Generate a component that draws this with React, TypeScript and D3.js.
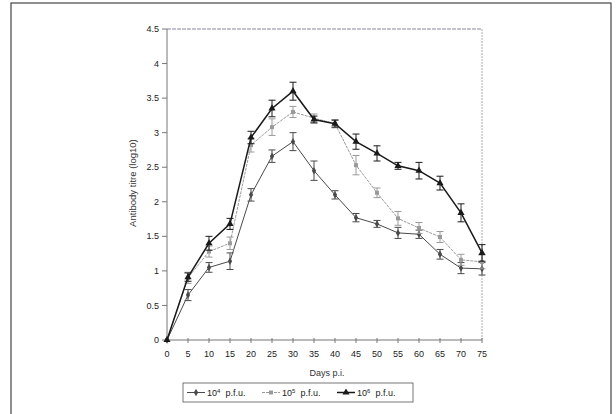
import React from 'react'
import { scaleLinear, line, symbol, symbolDiamond, symbolSquare, symbolTriangle } from 'd3'

const days = [0, 5, 10, 15, 20, 25, 30, 35, 40, 45, 50, 55, 60, 65, 70, 75]
const yTicks = [0, 0.5, 1, 1.5, 2, 2.5, 3, 3.5, 4, 4.5]

const pfu4 = [0, 0.65, 1.05, 1.14, 2.1, 2.66, 2.87, 2.45, 2.1, 1.77, 1.68, 1.55, 1.53, 1.24, 1.04, 1.03]
const pfu4Err = [0, 0.08, 0.07, 0.12, 0.09, 0.09, 0.13, 0.14, 0.06, 0.06, 0.05, 0.08, 0.06, 0.07, 0.08, 0.09]
const pfu5 = [0, 0.9, 1.28, 1.4, 2.82, 3.08, 3.3, 3.21, 3.13, 2.53, 2.13, 1.76, 1.62, 1.49, 1.16, 1.13]
const pfu5Err = [0, 0.08, 0.08, 0.09, 0.1, 0.12, 0.08, 0.06, 0.06, 0.14, 0.07, 0.1, 0.08, 0.08, 0.08, 0.1]
const pfu6 = [0, 0.91, 1.4, 1.68, 2.93, 3.35, 3.6, 3.19, 3.13, 2.87, 2.7, 2.52, 2.45, 2.27, 1.84, 1.26]
const pfu6Err = [0, 0.06, 0.1, 0.08, 0.09, 0.12, 0.13, 0.05, 0.05, 0.11, 0.11, 0.05, 0.12, 0.1, 0.13, 0.12]

const seriesNames = ['4', '5', '6']

const series = [
  { exp: seriesNames[0], vals: pfu4, err: pfu4Err, color: '#4a4a4a', width: 1, shape: symbolDiamond, size: 16, dash: '' },
  { exp: seriesNames[1], vals: pfu5, err: pfu5Err, color: '#9a9a9a', width: 1, shape: symbolSquare, size: 16, dash: '3,1' },
  { exp: seriesNames[2], vals: pfu6, err: pfu6Err, color: '#1a1a1a', width: 1.5, shape: symbolTriangle, size: 22, dash: '' },
]

const x = scaleLinear().domain([0, 75]).range([167, 482])
const y = scaleLinear().domain([0, 4.5]).range([340, 29])

const font = "'Liberation Sans', Arial, sans-serif"

export default function App() {
  const path = line<number>().x((_, i) => x(days[i])).y(d => y(d))

  return (
    <svg width={616} height={414} style={{ position: 'absolute', left: 0, top: 0, background: '#fff' }}>
      <rect x={11} y={3} width={600} height={420} fill="none" stroke="#444" strokeWidth={1.2} />

      {/* plot frame */}
      <line x1={x(0)} x2={x(75)} y1={y(4.5)} y2={y(4.5)} stroke="#8a86a0" strokeWidth={1} strokeDasharray="4,1" />
      <line x1={x(75)} x2={x(75)} y1={y(4.5)} y2={y(0)} stroke="#999" strokeWidth={0.8} strokeDasharray="2,1" />
      <line x1={x(0)} x2={x(0)} y1={y(4.5)} y2={y(0)} stroke="#777" strokeWidth={1} />
      <line x1={x(0)} x2={x(75)} y1={y(0)} y2={y(0)} stroke="#777" strokeWidth={1} />

      {yTicks.map(t => (
        <g key={t}>
          <line x1={x(0) - 5} x2={x(0)} y1={y(t)} y2={y(t)} stroke="#777" />
          <text x={x(0) - 8} y={y(t)} dy="0.35em" textAnchor="end" fontFamily={font} fontSize={9} fill="#222">{t}</text>
        </g>
      ))}
      {days.map(d => (
        <g key={d}>
          <line x1={x(d)} x2={x(d)} y1={y(0) - 2} y2={y(0) + 3} stroke="#777" />
          <text x={x(d)} y={y(0) + 17} textAnchor="middle" fontFamily={font} fontSize={9} fill="#222">{d}</text>
        </g>
      ))}

      <text x={327} y={376} textAnchor="middle" fontFamily={font} fontSize={9} fill="#333">Days p.i.</text>
      <text transform={`translate(136,${y(2.27)}) rotate(-90)`} textAnchor="middle" fontFamily={font} fontSize={9.5} fill="#333">
        Antibody titre (log10)
      </text>

      {series.map(s => (
        <g key={s.exp}>
          <path d={path(s.vals) || ''} fill="none" stroke={s.color} strokeWidth={s.width} strokeDasharray={s.dash} />
          {s.vals.map((v, i) => (
            <g key={i} stroke={s.color} strokeWidth={1}>
              {s.err[i] > 0 && (
                <>
                  <line x1={x(days[i])} x2={x(days[i])} y1={y(v - s.err[i])} y2={y(v + s.err[i])} />
                  <line x1={x(days[i]) - 3.5} x2={x(days[i]) + 3.5} y1={y(v - s.err[i])} y2={y(v - s.err[i])} />
                  <line x1={x(days[i]) - 3.5} x2={x(days[i]) + 3.5} y1={y(v + s.err[i])} y2={y(v + s.err[i])} />
                </>
              )}
              <path transform={`translate(${x(days[i])},${y(v)})`} d={symbol(s.shape, s.size)() || ''} fill={s.color} stroke="none" />
            </g>
          ))}
        </g>
      ))}

      {/* legend */}
      <rect x={183} y={383} width={230} height={19} fill="#fff" stroke="#555" strokeWidth={0.8} />
      {series.map((s, i) => {
        const lx = 187 + i * 75
        return (
          <g key={s.exp}>
            <line x1={lx} x2={lx + 18} y1={392.5} y2={392.5} stroke={s.color} strokeWidth={s.width} strokeDasharray={s.dash} />
            <path transform={`translate(${lx + 9},392.5)`} d={symbol(s.shape, s.size)() || ''} fill={s.color} />
            <text x={lx + 20} y={396} fontFamily={font} fontSize={9} fill="#222">
              10<tspan dy={-3.5} fontSize={6}>{s.exp}</tspan><tspan dy={3.5}>{'\u00a0\u00a0'}p.f.u.</tspan>
            </text>
          </g>
        )
      })}
    </svg>
  )
}
